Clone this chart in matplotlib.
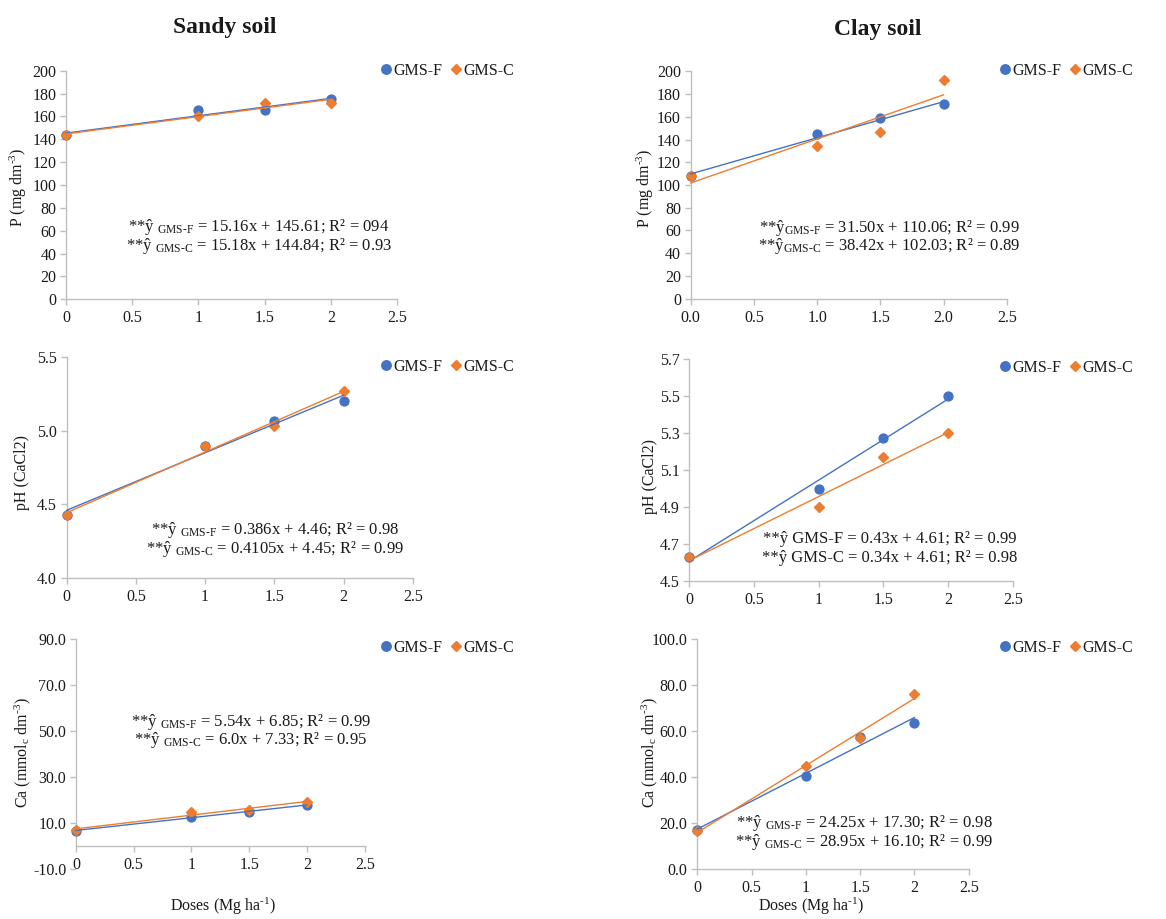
import numpy as np
import matplotlib
matplotlib.use("Agg")
import matplotlib.pyplot as plt
from matplotlib.lines import Line2D

plt.rcParams['font.family'] = ['Liberation Serif', 'DejaVu Serif']
plt.rcParams['mathtext.fontset'] = 'custom'
plt.rcParams['mathtext.rm'] = 'Liberation Serif'
plt.rcParams['mathtext.it'] = 'Liberation Serif:italic'
plt.rcParams['mathtext.bf'] = 'Liberation Serif:bold'

# ---------------- data ----------------
doses = [0, 1, 1.5, 2]

sandy_p_f = [143.5, 165.5, 166.0, 175.0]
sandy_p_c = [143.5, 160.0, 172.0, 171.5]
clay_p_f = [108.0, 144.5, 158.5, 171.0]
clay_p_c = [108.0, 134.5, 147.0, 192.0]

sandy_ph_f = [4.43, 4.90, 5.07, 5.20]
sandy_ph_c = [4.43, 4.90, 5.03, 5.27]
clay_ph_f = [4.63, 5.00, 5.27, 5.50]
clay_ph_c = [4.63, 4.90, 5.17, 5.30]

sandy_ca_f = [6.6, 12.5, 14.8, 17.8]
sandy_ca_c = [6.8, 14.8, 15.8, 19.0]
clay_ca_f = [17.2, 40.4, 57.7, 63.8]
clay_ca_c = [16.8, 44.9, 57.0, 76.4]

x_ticks = [0, 0.5, 1, 1.5, 2, 2.5]
x_labels_int = ["0", "0.5", "1", "1.5", "2", "2.5"]
x_labels_dec = ["0.0", "0.5", "1.0", "1.5", "2.0", "2.5"]

p_ticks = [0, 20, 40, 60, 80, 100, 120, 140, 160, 180, 200]
p_labels = ["0", "20", "40", "60", "80", "100", "120", "140", "160", "180", "200"]
sandy_ph_ticks = [4.0, 4.5, 5.0, 5.5]
sandy_ph_labels = ["4.0", "4.5", "5.0", "5.5"]
clay_ph_ticks = [4.5, 4.7, 4.9, 5.1, 5.3, 5.5, 5.7]
clay_ph_labels = ["4.5", "4.7", "4.9", "5.1", "5.3", "5.5", "5.7"]
sandy_ca_ticks = [-10, 10, 30, 50, 70, 90]
sandy_ca_labels = ["-10.0", "10.0", "30.0", "50.0", "70.0", "90.0"]
clay_ca_ticks = [0, 20, 40, 60, 80, 100]
clay_ca_labels = ["0.0", "20.0", "40.0", "60.0", "80.0", "100.0"]

series_names = ["GMS-F", "GMS-C"]

eq_sandy_p = [r"**ŷ $_{\text{GMS-F}}$ = 15.16x + 145.61; R² = 094",
              r"**ŷ $_{\text{GMS-C}}$ = 15.18x + 144.84; R² = 0.93"]
eq_clay_p = [r"**ŷ$_{\text{GMS-F}}$ = 31.50x + 110.06; R² = 0.99",
             r"**ŷ$_{\text{GMS-C}}$ = 38.42x + 102.03; R² = 0.89"]
eq_sandy_ph = [r"**ŷ $_{\text{GMS-F}}$ = 0.386x + 4.46; R² = 0.98",
               r"**ŷ $_{\text{GMS-C}}$ = 0.4105x + 4.45; R² = 0.99"]
eq_clay_ph = ["**ŷ GMS-F = 0.43x + 4.61; R² = 0.99",
              "**ŷ GMS-C = 0.34x + 4.61; R² = 0.98"]
eq_sandy_ca = [r"**ŷ $_{\text{GMS-F}}$ = 5.54x + 6.85; R² = 0.99",
               r"**ŷ $_{\text{GMS-C}}$ = 6.0x + 7.33; R² = 0.95"]
eq_clay_ca = [r"**ŷ $_{\text{GMS-F}}$ = 24.25x + 17.30; R² = 0.98",
              r"**ŷ $_{\text{GMS-C}}$ = 28.95x + 16.10; R² = 0.99"]

# ---------------- style ----------------
W, H = 1166, 919
BLUE = "#4472C4"
ORANGE = "#ED7D31"
TXT = "#1a1a1a"
GRID = "#bfbfbf"
FS = 11.5
MS_O = 6.4
MS_D = 4.8

fig = plt.figure(figsize=(W / 100, H / 100), dpi=100)


def rect(x0, x1, ytop, ybot):
    return [x0 / W, 1 - ybot / H, (x1 - x0) / W, (ybot - ytop) / H]


def fx(px):
    return px / W


def fy(py):
    return 1 - py / H


panels = [
    dict(r=rect(66, 397, 70.7, 299.3), f=sandy_p_f, c=sandy_p_c, ylim=(0, 200),
         yt=p_ticks, yl=p_labels, xl=x_labels_int, eq=eq_sandy_p, eqx=259, eqy=(226, 244.5),
         ylab=r"P (mg dm$^{\text{-3}}$)", ylxy=(18, 187), leg=(380, 71)),
    dict(r=rect(690.7, 1006.7, 71.3, 298.7), f=clay_p_f, c=clay_p_c, ylim=(0, 200),
         yt=p_ticks, yl=p_labels, xl=x_labels_dec, eq=eq_clay_p, eqx=889, eqy=(227, 245.5),
         ylab=r"P (mg dm$^{\text{-3}}$)", ylxy=(645, 188), leg=(999, 71)),
    dict(r=rect(66.7, 412.7, 357.3, 578), f=sandy_ph_f, c=sandy_ph_c, ylim=(4.0, 5.5),
         yt=sandy_ph_ticks, yl=sandy_ph_labels, xl=x_labels_int, eq=eq_sandy_ph, eqx=275,
         eqy=(529, 548), ylab="pH (CaCl2)", ylxy=(22, 473), leg=(380, 367)),
    dict(r=rect(689.3, 1012.7, 358.7, 581.3), f=clay_ph_f, c=clay_ph_c, ylim=(4.5, 5.7),
         yt=clay_ph_ticks, yl=clay_ph_labels, xl=x_labels_int, eq=eq_clay_ph, eqx=890,
         eqy=(538, 557), ylab="pH (CaCl2)", ylxy=(650, 477), leg=(999, 368)),
    dict(r=rect(76, 364.7, 639.3, 868.7), f=sandy_ca_f, c=sandy_ca_c, ylim=(-10, 90),
         yt=sandy_ca_ticks, yl=sandy_ca_labels, xl=x_labels_int, eq=eq_sandy_ca, eqx=251,
         eqy=(721, 739.5), ylab=r"Ca (mmol$_{\text{c}}$ dm$^{\text{-3}}$)", ylxy=(23, 753),
         leg=(380, 648), xaxis0=True),
    dict(r=rect(697.3, 968.7, 639.3, 869.3), f=clay_ca_f, c=clay_ca_c, ylim=(0, 100),
         yt=clay_ca_ticks, yl=clay_ca_labels, xl=x_labels_int, eq=eq_clay_ca, eqx=864,
         eqy=(822, 840.5), ylab=r"Ca (mmol$_{\text{c}}$ dm$^{\text{-3}}$)", ylxy=(650, 753),
         leg=(999, 648)),
]

xarr = np.array(doses, dtype=float)
xfit = np.array([min(doses), max(doses)], dtype=float)

for p in panels:
    ax = fig.add_axes(p["r"])
    ax.set_xlim(0, 2.5)
    ax.set_ylim(*p["ylim"])
    # markers
    ax.plot(doses, p["f"], linestyle="none", marker="o", markersize=MS_O,
            color=BLUE, zorder=3, clip_on=False)
    ax.plot(doses, p["c"], linestyle="none", marker="D", markersize=MS_D,
            color=ORANGE, zorder=3, clip_on=False)
    # linear trendlines
    for ys, col in ((p["f"], BLUE), (p["c"], ORANGE)):
        k, b = np.polyfit(xarr, np.array(ys, dtype=float), 1)
        ax.plot(xfit, k * xfit + b, color=col, linewidth=1.0, zorder=4, clip_on=False)

    for s in ("top", "right"):
        ax.spines[s].set_visible(False)
    for s in ("left", "bottom"):
        ax.spines[s].set_color(GRID)
        ax.spines[s].set_linewidth(1.0)
    if p.get("xaxis0"):
        ax.spines["bottom"].set_position(("data", 0))
        ax.spines["left"].set_bounds(0, p["ylim"][1])
    ax.set_xticks(x_ticks)
    ax.set_xticklabels(p["xl"])
    ax.set_yticks(p["yt"])
    ax.set_yticklabels(p["yl"])
    ax.tick_params(axis="both", colors=GRID, labelcolor=TXT, labelsize=FS,
                   length=4, width=1.0, direction="out")
    ax.tick_params(axis="x", pad=4)
    ax.tick_params(axis="y", pad=3)
    ax.patch.set_alpha(0)

    # equations
    for txt, yy in zip(p["eq"], p["eqy"]):
        fig.text(fx(p["eqx"]), fy(yy + 5), txt, ha="center", va="baseline",
                 fontsize=12, color=TXT)

    # y label
    fig.text(fx(p["ylxy"][0]), fy(p["ylxy"][1]), p["ylab"], rotation=90,
             ha="center", va="center", fontsize=FS, color=TXT)

    # legend
    handles = [
        Line2D([], [], linestyle="none", marker="o", markersize=MS_O + 0.4, color=BLUE),
        Line2D([], [], linestyle="none", marker="D", markersize=MS_D + 0.3, color=ORANGE),
    ]
    ax.legend(handles, series_names, loc="center left",
              bbox_to_anchor=(fx(p["leg"][0]), fy(p["leg"][1])),
              bbox_transform=fig.transFigure, ncol=2, frameon=False,
              fontsize=FS, handlelength=0.8, handletextpad=0.05,
              columnspacing=0.45, borderpad=0, borderaxespad=0,
              labelcolor=TXT)

# titles
fig.text(fx(225), fy(28), "Sandy soil", ha="center", va="center",
         fontsize=17, fontweight="bold", color=TXT)
fig.text(fx(878), fy(30), "Clay soil", ha="center", va="center",
         fontsize=17, fontweight="bold", color=TXT)

# x labels
fig.text(fx(223), fy(906), r"Doses (Mg ha$^{\text{-1}}$)", ha="center", va="center",
         fontsize=FS, color=TXT)
fig.text(fx(811), fy(906), r"Doses (Mg ha$^{\text{-1}}$)", ha="center", va="center",
         fontsize=FS, color=TXT)

fig.savefig("out.png", dpi=100)
